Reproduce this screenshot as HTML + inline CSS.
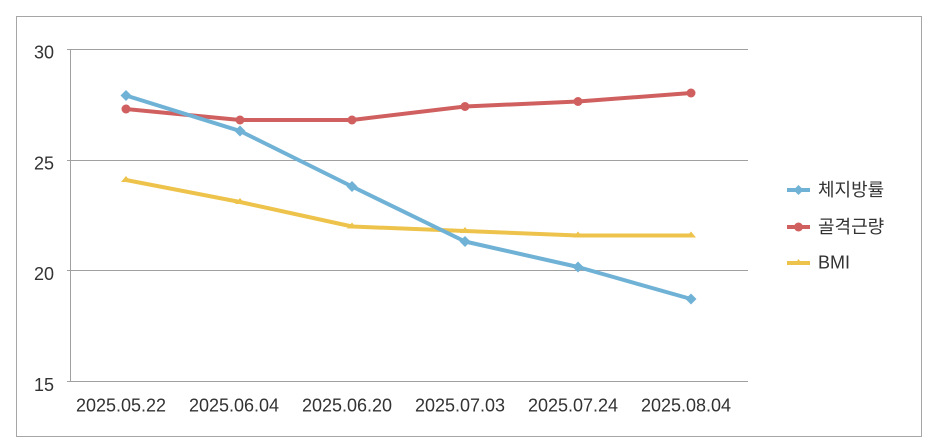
<!DOCTYPE html>
<html>
<head>
<meta charset="utf-8">
<style>
html,body{margin:0;padding:0;background:#fff;}
svg{display:block;}
text{font-family:"Liberation Sans","Noto Sans CJK KR",sans-serif;fill:#333;}
</style>
</head>
<body>
<svg width="942" height="447" viewBox="0 0 942 447" xmlns="http://www.w3.org/2000/svg">
<rect x="0" y="0" width="942" height="447" fill="#fff"/>
<rect x="16.5" y="16.5" width="905" height="420" fill="#fff" stroke="#a6a6a6" stroke-width="1"/>
<!-- grid -->
<g stroke="#a0a0a0" stroke-width="1">
<line x1="67" y1="49.5" x2="748" y2="49.5"/>
<line x1="67" y1="160.5" x2="748" y2="160.5"/>
<line x1="67" y1="270.5" x2="748" y2="270.5"/>
<line x1="67" y1="381.5" x2="748" y2="381.5"/>
<line x1="70.5" y1="49" x2="70.5" y2="382"/>
</g>
<!-- y labels -->
<g font-size="18" text-anchor="end">
<text x="54" y="58.5">30</text>
<text x="54" y="169.5">25</text>
<text x="54" y="280">20</text>
<text x="54" y="391">15</text>
</g>
<!-- x labels -->
<g font-size="18" text-anchor="middle">
<text x="121" y="411.5">2025.05.22</text>
<text x="234" y="411.5">2025.06.04</text>
<text x="347" y="411.5">2025.06.20</text>
<text x="460" y="411.5">2025.07.03</text>
<text x="573" y="411.5">2025.07.24</text>
<text x="686" y="411.5">2025.08.04</text>
</g>
<!-- BMI -->
<g stroke="#eec34c" stroke-width="4" fill="none" stroke-linejoin="round">
<polyline points="126,180 240,202 352,226.5 465,231 578,235.5 691,235.5"/>
</g>
<g fill="#eec34c">
<polygon points="126,176 131,182 121,182"/>
<polygon points="240,198 245,204 235,204"/>
<polygon points="352,222.5 357,228.5 347,228.5"/>
<polygon points="465,227 470,233 460,233"/>
<polygon points="578,231.5 583,237.5 573,237.5"/>
<polygon points="691,231.5 696,237.5 686,237.5"/>
</g>
<!-- 골격근량 -->
<g stroke="#d0605f" stroke-width="4" fill="none" stroke-linejoin="round">
<polyline points="126,109 240,120 352,120 465,106.5 578,101.5 691,93"/>
</g>
<g fill="#d0605f">
<circle cx="126" cy="109" r="4.5"/>
<circle cx="240" cy="120" r="4.5"/>
<circle cx="352" cy="120" r="4.5"/>
<circle cx="465" cy="106.5" r="4.5"/>
<circle cx="578" cy="101.5" r="4.5"/>
<circle cx="691" cy="93" r="4.5"/>
</g>
<!-- 체지방률 -->
<g stroke="#6fb2d6" stroke-width="4" fill="none" stroke-linejoin="round">
<polyline points="126,95.5 240,131 352,186.5 465,241.5 578,267 691,299"/>
</g>
<g fill="#6fb2d6">
<polygon points="126,90 131.5,95.5 126,101 120.5,95.5"/>
<polygon points="240,125.5 245.5,131 240,136.5 234.5,131"/>
<polygon points="352,181 357.5,186.5 352,192 346.5,186.5"/>
<polygon points="465,236 470.5,241.5 465,247 459.5,241.5"/>
<polygon points="578,261.5 583.5,267 578,272.5 572.5,267"/>
<polygon points="691,293.5 696.5,299 691,304.5 685.5,299"/>
</g>
<!-- legend -->
<g stroke-width="4">
<line x1="787" y1="190" x2="810" y2="190" stroke="#6fb2d6"/>
<line x1="787" y1="227" x2="810" y2="227" stroke="#d0605f"/>
<line x1="787" y1="263" x2="810" y2="263" stroke="#eec34c"/>
</g>
<polygon points="798.5,185 803.5,190 798.5,195 793.5,190" fill="#6fb2d6"/>
<circle cx="798.5" cy="227" r="4.5" fill="#d0605f"/>
<polygon points="798.5,259 803,265 794,265" fill="#eec34c"/>
<g font-size="18">
<text x="818" y="196">체지방률</text>
<text x="818" y="233">골격근량</text>
<text x="818" y="268.5">BMI</text>
</g>
</svg>
</body>
</html>
